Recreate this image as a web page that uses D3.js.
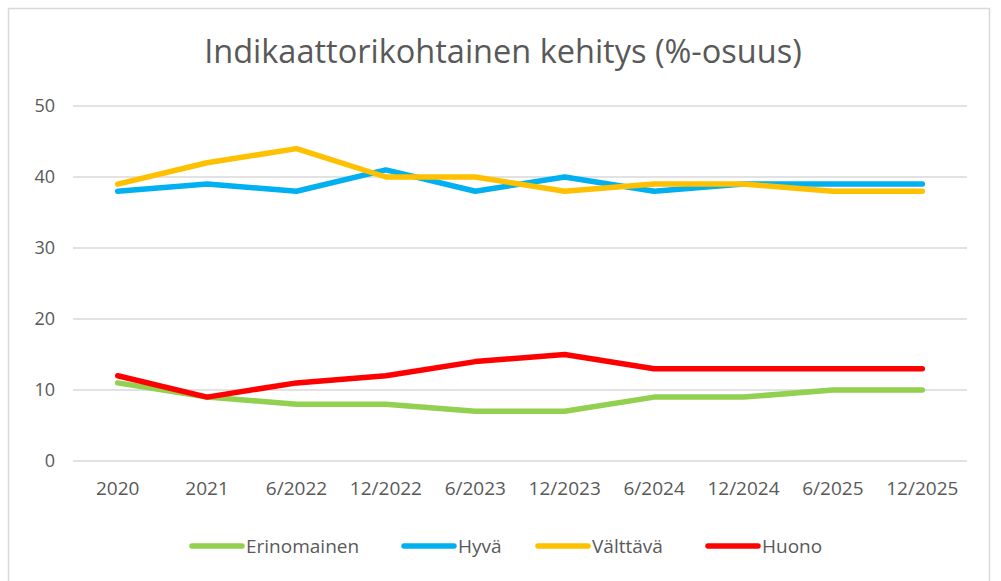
<!DOCTYPE html>
<html>
<head>
<meta charset="utf-8">
<script src="https://cdn.jsdelivr.net/npm/d3@7"></script>
<style>
  body { margin: 0; background: #fff; }
  text { font-family: "Open Sans", "Noto Sans", sans-serif; fill: #595959; }
</style>
</head>
<body>
<div id="chart"></div>
<script>
// data
const categories = ["2020", "2021", "6/2022", "12/2022", "6/2023", "12/2023", "6/2024", "12/2024", "6/2025", "12/2025"];
const erinomainen = [11, 9, 8, 8, 7, 7, 9, 9, 10, 10];
const hyva = [38, 39, 38, 41, 38, 40, 38, 39, 39, 39];
const valttava = [39, 42, 44, 40, 40, 38, 39, 39, 38, 38];
const huono = [12, 9, 11, 12, 14, 15, 13, 13, 13, 13];
const yTicks = [0, 10, 20, 30, 40, 50];

const series = [
  {name: "Erinomainen", values: erinomainen, color: "#92D050"},
  {name: "Hyvä", values: hyva, color: "#00B0F0"},
  {name: "Välttävä", values: valttava, color: "#FFC000"},
  {name: "Huono", values: huono, color: "#FF0000"}
];

const W = 1001, H = 581;
const margin = {top: 106, right: 34, bottom: 120, left: 73},
      width = W - margin.left - margin.right,
      height = H - margin.top - margin.bottom;

const svg = d3.select("#chart").append("svg")
  .attr("width", W)
  .attr("height", H);

// outer frame
svg.append("rect")
  .attr("x", 8.5).attr("y", 8.5)
  .attr("width", 981).attr("height", 600)
  .attr("fill", "#fff")
  .attr("stroke", "#d9d9d9")
  .attr("stroke-width", 1.5);

// title
svg.append("text")
  .attr("x", 503).attr("y", 63)
  .attr("text-anchor", "middle")
  .style("font-size", "32.5px")
  .text("Indikaattorikohtainen kehitys (%-osuus)");

const g = svg.append("g")
  .attr("transform", "translate(" + margin.left + "," + margin.top + ")");

const x = d3.scaleBand().domain(categories).range([0, width]);
const y = d3.scaleLinear().domain([0, 50]).range([height, 0]);

// gridlines
g.selectAll(".grid")
  .data(yTicks)
  .enter().append("line")
  .attr("x1", 0).attr("x2", width)
  .attr("y1", d => y(d)).attr("y2", d => y(d))
  .attr("stroke", "#d9d9d9")
  .attr("stroke-width", 1.3);

// y axis
const yAxis = g.append("g")
  .call(d3.axisLeft(y).tickValues(yTicks).tickSize(0).tickPadding(18));
yAxis.select(".domain").remove();
yAxis.selectAll("text").style("font-size", "18px").attr("fill", "#595959");

// x axis
const xAxis = g.append("g")
  .attr("transform", "translate(0," + height + ")")
  .call(d3.axisBottom(x).tickSize(0).tickPadding(21));
xAxis.select(".domain").remove();
xAxis.selectAll("text").style("font-size", "19px").attr("fill", "#595959");

// lines
const line = d3.line()
  .x((d, i) => x(categories[i]) + x.bandwidth() / 2)
  .y(d => y(d));

g.selectAll(".series")
  .data(series)
  .enter().append("path")
  .attr("fill", "none")
  .attr("stroke", d => d.color)
  .attr("stroke-width", 5.5)
  .attr("stroke-linejoin", "round")
  .attr("stroke-linecap", "round")
  .attr("d", d => line(d.values));

// legend
const legendX = [189, 401, 535, 705];
const legend = svg.selectAll(".legend")
  .data(series)
  .enter().append("g")
  .attr("transform", (d, i) => "translate(" + legendX[i] + ",546)");

legend.append("line")
  .attr("x1", 3).attr("x2", 53)
  .attr("stroke", d => d.color)
  .attr("stroke-width", 5.5)
  .attr("stroke-linecap", "round");

legend.append("text")
  .attr("x", 57).attr("y", 7)
  .style("font-size", "19px")
  .text(d => d.name);
</script>
</body>
</html>
